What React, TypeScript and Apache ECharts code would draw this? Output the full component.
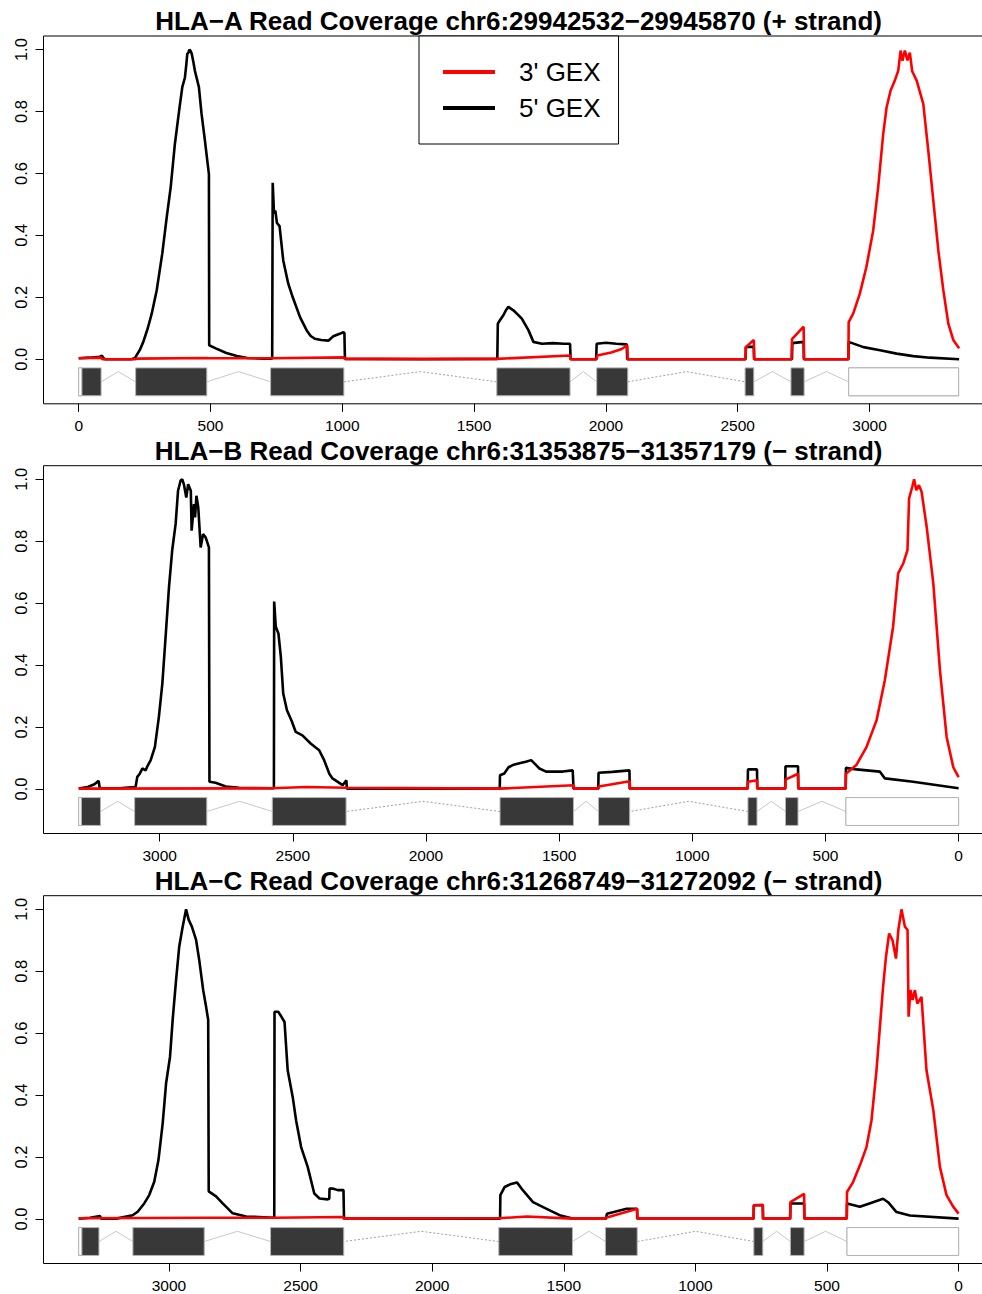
import React, { useEffect, useRef } from "react";
import * as echarts from "echarts";

const FONT = '"Liberation Sans", Arial, Helvetica, sans-serif';

const titles = [
  "HLA\u2212A Read Coverage chr6:29942532\u221229945870 (+ strand)",
  "HLA\u2212B Read Coverage chr6:31353875\u221231357179 (\u2212 strand)",
  "HLA\u2212C Read Coverage chr6:31268749\u221231272092 (\u2212 strand)",
];
const geneLengths = [3338, 3304, 3343];
const reversed = [false, true, true];

const xTicks = [
  [0, 500, 1000, 1500, 2000, 2500, 3000],
  [3000, 2500, 2000, 1500, 1000, 500, 0],
  [3000, 2500, 2000, 1500, 1000, 500, 0],
];
const yTicks = [0, 0.2, 0.4, 0.6, 0.8, 1.0];

// exons (start, end) in transcript-relative coordinates
const hlaAExons = [[0, 85], [216, 486], [728, 1006], [1586, 1864], [1965, 2083], [2528, 2561], [2702, 2752], [2921, 3338]];
const hlaAUtr = [[0, 12], [2921, 3338]];
const hlaBExons = [[3222, 3304], [2823, 3094], [2300, 2577], [1446, 1722], [1235, 1352], [757, 791], [603, 650], [0, 423]];
const hlaBUtr = [[3294, 3304], [0, 423]];
const hlaCExons = [[3266, 3343], [2866, 3137], [2336, 2614], [1467, 1747], [1221, 1342], [744, 778], [587, 639], [0, 424]];
const hlaCUtr = [[3331, 3343], [0, 424]];

// coverage, 5' GEX (black)
const hlaA5 = [[0,0.003],[40,0.005],[80,0.008],[88,0.012],[92,0.005],[100,0],[200,0],[214,0.004],[220,0.013],[232,0.03],[245,0.056],[262,0.1],[277,0.147],[296,0.223],[317,0.341],[334,0.459],[349,0.556],[365,0.696],[381,0.803],[393,0.879],[403,0.91],[408,0.95],[412,0.986],[416,0.99],[420,1.0],[425,0.995],[429,0.986],[435,0.96],[441,0.931],[456,0.879],[466,0.793],[479,0.705],[488,0.64],[494,0.598],[495,0.045],[520,0.035],[560,0.02],[600,0.01],[640,0.004],[700,0.002],[734,0.002],[736,0.57],[741,0.47],[746,0.48],[752,0.44],[762,0.43],[776,0.319],[795,0.244],[812,0.2],[840,0.135],[865,0.093],[880,0.075],[896,0.066],[920,0.062],[947,0.06],[966,0.074],[990,0.082],[1004,0.087],[1008,0.085],[1010,0.001],[1300,0],[1588,0.001],[1590,0.115],[1598,0.126],[1611,0.142],[1622,0.16],[1630,0.169],[1649,0.158],[1665,0.145],[1681,0.131],[1706,0.094],[1725,0.056],[1757,0.05],[1800,0.052],[1840,0.05],[1864,0.05],[1866,0.0],[1963,0.0],[1965,0.05],[2000,0.053],[2040,0.05],[2079,0.048],[2081,0],[2530,0],[2531,0.04],[2561,0.04],[2562,0],[2706,0],[2707,0.052],[2750,0.056],[2751,0],[2920,0],[2921,0.056],[2977,0.039],[3040,0.029],[3103,0.018],[3166,0.01],[3229,0.005],[3340,0.0]];
const hlaB5 = [[3304,0.001],[3270,0.006],[3245,0.015],[3229,0.026],[3225,0.002],[3150,0.002],[3095,0.006],[3090,0.008],[3084,0.039],[3074,0.05],[3065,0.066],[3053,0.06],[3045,0.075],[3034,0.092],[3018,0.135],[3003,0.232],[2990,0.339],[2977,0.5],[2965,0.651],[2953,0.77],[2940,0.856],[2931,0.963],[2921,0.997],[2915,1.0],[2909,0.984],[2900,0.941],[2893,0.984],[2883,0.963],[2880,0.834],[2871,0.92],[2867,0.877],[2862,0.947],[2855,0.909],[2846,0.78],[2837,0.823],[2827,0.812],[2815,0.78],[2813,0.023],[2790,0.02],[2752,0.008],[2702,0.004],[2577,0.002],[2571,0.002],[2570,0.605],[2564,0.524],[2554,0.502],[2545,0.427],[2536,0.308],[2522,0.254],[2505,0.221],[2489,0.184],[2464,0.173],[2432,0.146],[2401,0.125],[2382,0.092],[2363,0.049],[2351,0.034],[2313,0.012],[2299,0.028],[2297,0.001],[1723,0.001],[1722,0.044],[1706,0.05],[1690,0.07],[1674,0.077],[1649,0.083],[1625,0.088],[1605,0.093],[1590,0.08],[1574,0.066],[1549,0.056],[1486,0.056],[1449,0.06],[1446,0.001],[1353,0.001],[1352,0.052],[1300,0.055],[1236,0.06],[1235,0.001],[792,0.001],[791,0.063],[757,0.063],[756,0.001],[651,0.001],[650,0.073],[603,0.073],[602,0.001],[424,0.001],[423,0.068],[384,0.063],[296,0.056],[277,0.034],[171,0.023],[0,0.002]];
const hlaC5 = [[3343,0.001],[3300,0.004],[3262,0.009],[3258,0.001],[3200,0.001],[3138,0.012],[3119,0.023],[3094,0.05],[3075,0.077],[3056,0.12],[3040,0.19],[3024,0.308],[3011,0.438],[2996,0.524],[2986,0.643],[2973,0.772],[2961,0.88],[2948,0.944],[2935,1.0],[2925,0.966],[2913,0.944],[2897,0.901],[2885,0.836],[2870,0.739],[2859,0.685],[2851,0.643],[2849,0.089],[2821,0.073],[2796,0.05],[2758,0.018],[2707,0.008],[2604,0.004],[2600,0.004],[2599,0.669],[2585,0.669],[2572,0.652],[2561,0.636],[2549,0.48],[2530,0.394],[2517,0.318],[2498,0.232],[2473,0.168],[2448,0.082],[2428,0.066],[2397,0.063],[2391,0.065],[2390,0.098],[2378,0.098],[2359,0.093],[2337,0.093],[2335,0.001],[1742,0.001],[1741,0.077],[1725,0.103],[1700,0.113],[1678,0.118],[1655,0.092],[1617,0.054],[1567,0.033],[1516,0.012],[1467,0.001],[1340,0.001],[1336,0.017],[1261,0.033],[1222,0.033],[1221,0.001],[779,0.001],[778,0.044],[744,0.044],[743,0.001],[640,0.001],[639,0.05],[587,0.05],[586,0.001],[425,0.001],[424,0.05],[375,0.039],[325,0.054],[287,0.065],[268,0.054],[236,0.022],[185,0.011],[0,0.001]];

// coverage, 3' GEX (red)
const hlaA3 = [[0,0.003],[85,0.005],[90,0],[216,0],[218,0.002],[486,0.004],[490,0.003],[736,0.003],[1006,0.006],[1010,0.001],[1586,0.001],[1864,0.012],[1866,0],[1965,0],[1967,0.012],[2020,0.022],[2060,0.033],[2081,0.045],[2083,0],[2529,0],[2531,0.039],[2561,0.062],[2563,0],[2704,0],[2706,0.065],[2750,0.105],[2752,0],[2920,0],[2921,0.12],[2938,0.147],[2963,0.211],[2988,0.297],[3014,0.416],[3033,0.556],[3052,0.728],[3065,0.814],[3080,0.868],[3096,0.9],[3109,0.932],[3118,0.997],[3125,0.964],[3134,0.997],[3144,0.965],[3153,0.99],[3162,0.93],[3179,0.9],[3204,0.825],[3223,0.674],[3242,0.513],[3261,0.352],[3280,0.223],[3299,0.115],[3318,0.062],[3340,0.035]];
const hlaB3 = [[3304,0.001],[2577,0.002],[2450,0.006],[2300,0.004],[1722,0.001],[1446,0.012],[1445,0.001],[1352,0.001],[1351,0.008],[1235,0.025],[1234,0.001],[792,0.001],[791,0.023],[757,0.028],[756,0.001],[651,0.001],[650,0.03],[603,0.049],[602,0.001],[424,0.001],[423,0.049],[384,0.077],[346,0.135],[308,0.222],[277,0.351],[246,0.524],[227,0.696],[208,0.728],[192,0.771],[186,0.938],[174,0.976],[167,1.0],[159,0.965],[149,0.981],[139,0.96],[120,0.847],[95,0.664],[70,0.383],[45,0.168],[20,0.07],[0,0.038]];
const hlaC3 = [[3343,0.002],[2860,0.004],[2600,0.004],[2340,0.006],[2336,0.001],[1747,0.002],[1640,0.008],[1467,0.001],[1342,0.001],[1340,0.004],[1221,0.033],[1220,0.001],[779,0.001],[778,0.044],[744,0.046],[743,0.001],[640,0.001],[639,0.054],[587,0.081],[586,0.001],[425,0.001],[424,0.087],[401,0.119],[375,0.173],[350,0.232],[331,0.318],[312,0.48],[299,0.62],[287,0.749],[276,0.846],[264,0.922],[251,0.9],[238,0.841],[229,0.933],[217,1.0],[204,0.944],[194,0.933],[190,0.653],[183,0.739],[175,0.707],[166,0.739],[157,0.696],[141,0.717],[122,0.48],[96,0.351],[71,0.168],[46,0.077],[20,0.039],[0,0.017]];

const black5 = [hlaA5, hlaB5, hlaC5];
const red3 = [hlaA3, hlaB3, hlaC3];
const exonSets = [hlaAExons, hlaBExons, hlaCExons];
const utrSets = [hlaAUtr, hlaBUtr, hlaCUtr];

const NAME3 = "3' GEX";
const NAME5 = "5' GEX";

// gene model levels (y units)
const G_TOP = -0.028;
const G_BOT = -0.118;
const G_MID = -0.073;
const G_PEAK = -0.04;

const gridTops = [36, 465.7, 895.7];
const GRID_LEFT = 43.5;
const GRID_WIDTH = 950.3;
const GRID_HEIGHT = 367.8;
const titleY = [21, 451, 881];

function geneFeatures(exons: number[][], utrs: number[][]) {
  const sorted = exons.slice().sort((a, b) => a[0] - b[0]);
  const feats: number[][] = [];
  for (let i = 0; i < sorted.length - 1; i++) {
    feats.push([sorted[i][1], sorted[i + 1][0], 2, G_MID]);
  }
  sorted.forEach((e) => feats.push([e[0], e[1], 0, G_MID]));
  utrs.forEach((u) => feats.push([u[0], u[1], 1, G_MID]));
  return feats;
}

export default function App() {
  const ref = useRef<HTMLDivElement>(null);
  useEffect(() => {
    if (!ref.current) return;
    const chart = echarts.init(ref.current, null, { renderer: "svg" });

    const grids: any[] = [];
    const xAxes: any[] = [];
    const yAxes: any[] = [];
    const series: any[] = [];
    const graphics: any[] = [];

    for (let i = 0; i < 3; i++) {
      const L = geneLengths[i];
      grids.push({
        left: GRID_LEFT,
        top: gridTops[i],
        width: GRID_WIDTH,
        height: GRID_HEIGHT,
        show: true,
        borderColor: "#000",
        borderWidth: 1,
        backgroundColor: "transparent",
      });
      xAxes.push({
        gridIndex: i,
        type: "value",
        position: "bottom",
        min: -0.04 * L,
        max: 1.04 * L,
        inverse: reversed[i],
        splitLine: { show: false },
        axisLine: { show: false, onZero: false },
        axisTick: { show: true, length: 8, customValues: xTicks[i], lineStyle: { color: "#000", width: 1 } },
        axisLabel: { customValues: xTicks[i], color: "#000", fontSize: 15.5, fontFamily: FONT, margin: 14, formatter: (v: number) => String(v) },
      });
      yAxes.push({
        gridIndex: i,
        type: "value",
        position: "left",
        min: -0.144,
        max: 1.044,
        splitLine: { show: false },
        axisLine: { show: false, onZero: false },
        axisTick: { show: true, length: 8, customValues: yTicks, lineStyle: { color: "#000", width: 1 } },
        axisLabel: { customValues: yTicks, rotate: 90, color: "#000", fontSize: 16.5, fontFamily: FONT, margin: 14, formatter: (v: number) => v.toFixed(1) },
      });

      series.push({
        type: "custom",
        xAxisIndex: i,
        yAxisIndex: i,
        silent: true,
        encode: { x: [0, 1], y: 3 },
        data: geneFeatures(exonSets[i], utrSets[i]),
        renderItem: (params: any, api: any) => {
          const s = api.value(0);
          const e = api.value(1);
          const kind = api.value(2);
          if (kind === 2) {
            const p1 = api.coord([s, G_MID]);
            const p2 = api.coord([(s + e) / 2, G_PEAK]);
            const p3 = api.coord([e, G_MID]);
            const long = Math.abs(e - s) > 300;
            return {
              type: "polyline",
              shape: { points: [p1, p2, p3] },
              style: { stroke: long ? "#a0a0a0" : "#c8c8c8", lineWidth: 1, fill: null, lineDash: long ? [2, 2] : null },
            };
          }
          const a = api.coord([s, G_TOP]);
          const b = api.coord([e, G_BOT]);
          return {
            type: "rect",
            shape: { x: Math.min(a[0], b[0]), y: a[1], width: Math.abs(b[0] - a[0]), height: b[1] - a[1] },
            style: { fill: kind === 0 ? "#383838" : "#ffffff", stroke: "#b4b4b4", lineWidth: 1 },
          };
        },
      });
      series.push({
        type: "line",
        name: NAME5,
        xAxisIndex: i,
        yAxisIndex: i,
        data: black5[i],
        showSymbol: false,
        symbol: "none",
        color: "#000000",
        lineStyle: { color: "#000000", width: 2.6 },
        silent: true,
      });
      series.push({
        type: "line",
        name: NAME3,
        xAxisIndex: i,
        yAxisIndex: i,
        data: red3[i],
        showSymbol: false,
        symbol: "none",
        color: "#ff0000",
        lineStyle: { color: "#ff0000", width: 2.6 },
        silent: true,
      });

      graphics.push({
        type: "text",
        x: GRID_LEFT + GRID_WIDTH / 2,
        y: titleY[i],
        style: {
          text: titles[i],
          fontSize: 26,
          fontWeight: "bold",
          fontFamily: FONT,
          fill: "#000",
          align: "center",
          verticalAlign: "middle",
        },
      });
    }

    chart.setOption({
      animation: false,
      backgroundColor: "#ffffff",
      textStyle: { fontFamily: FONT },
      grid: grids,
      xAxis: xAxes,
      yAxis: yAxes,
      series,
      graphic: graphics,
      legend: {
        data: [NAME3, NAME5],
        orient: "vertical",
        left: 419,
        top: 36,
        padding: [23, 18, 23, 24],
        itemGap: 10,
        itemWidth: 52,
        itemHeight: 4,
        icon: "rect",
        borderColor: "#000",
        borderWidth: 1,
        backgroundColor: "#fff",
        selectedMode: false,
        textStyle: { fontSize: 26, color: "#000", fontFamily: FONT, padding: [0, 0, 0, 19] },
      },
    });

    return () => chart.dispose();
  }, []);

  return (
    <div style={{ position: "absolute", left: 0, top: 0, width: 982, height: 1294, overflow: "hidden", background: "#fff" }}>
      <div ref={ref} style={{ width: 1012, height: 1294 }} />
    </div>
  );
}
